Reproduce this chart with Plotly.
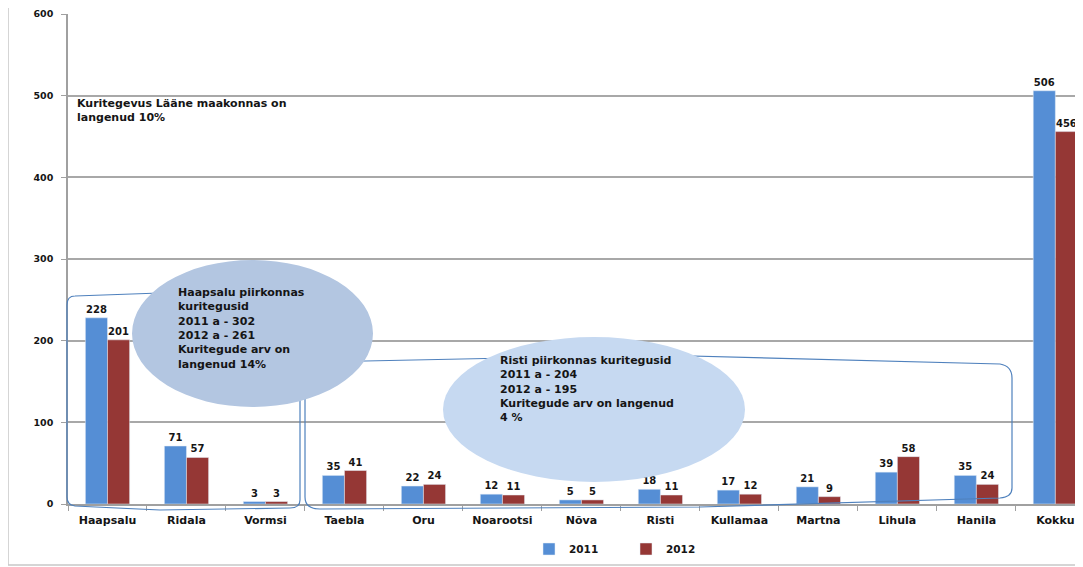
import plotly.graph_objects as go

categories = ["Haapsalu", "Ridala", "Vormsi", "Taebla", "Oru", "Noarootsi", "Nõva",
              "Risti", "Kullamaa", "Martna", "Lihula", "Hanila", "Kokku"]
values_2011 = [228, 71, 3, 35, 22, 12, 5, 18, 17, 21, 39, 35, 506]
values_2012 = [201, 57, 3, 41, 24, 11, 5, 11, 12, 9, 58, 24, 456]
y_ticks = [0, 100, 200, 300, 400, 500, 600]

# page has an 8px body margin; work in screen pixels and convert
OFF = 8
SW, SH = 1083, 567
W, H = SW - OFF, SH - OFF
L_s, T_s, BOT_s = 68, 14, 504  # screen px of plot left, top, bottom
L, T = L_s - OFF, T_s - OFF
B = SH - BOT_s
R = 0
PW, PH = SW - L_s, BOT_s - T_s


def px(x):
    return (x - L_s) / PW


def py(y):
    return (BOT_s - y) / PH


BLUE = "#558ED5"
RED = "#953735"
FONT = "DejaVu Sans"
TXT = "#151515"

fig = go.Figure()
fig.add_trace(go.Bar(x=categories, y=values_2011, name="2011", marker_color=BLUE,
                     text=values_2011, textposition="outside", cliponaxis=False,
                     textfont=dict(size=10, color=TXT, family=FONT, weight="bold")))
fig.add_trace(go.Bar(x=categories, y=values_2012, name="2012", marker_color=RED,
                     text=values_2012, textposition="outside", cliponaxis=False,
                     textfont=dict(size=10, color=TXT, family=FONT, weight="bold")))


def svg_path(cmds):
    out = []
    for c in cmds:
        if isinstance(c, str):
            out.append(c)
        else:
            out.append(f"{px(c[0]):.5f},{py(c[1]):.5f}")
    return " ".join(out)


line_col = "#4F81BD"
shapes = []
shapes.append(dict(type="rect", xref="paper", yref="paper", x0=px(8), x1=px(1095),
                   y0=py(565), y1=py(5), line=dict(color="#C8C8C8", width=1.5),
                   fillcolor="rgba(0,0,0,0)", layer="below"))
shapes.append(dict(type="path", xref="paper", yref="paper", layer="above",
                   path=svg_path(["M", (75, 296), "L", (160, 293), "L", (292, 296), "Q", (300, 297), (300, 305),
                                  "L", (300, 500), "Q", (300, 508), (290, 508), "L", (160, 510), "L", (75, 506),
                                  "Q", (67, 505), (67, 497), "L", (67, 305), "Q", (67, 296), (75, 296), "Z"]),
                   line=dict(color=line_col, width=1.2)))
shapes.append(dict(type="path", xref="paper", yref="paper", layer="above",
                   path=svg_path(["M", (317, 362), "L", (653, 355), "L", (1000, 364), "Q", (1012, 366), (1012, 378),
                                  "L", (1012, 488), "Q", (1012, 497), (1000, 498), "L", (700, 507), "L", (320, 509),
                                  "Q", (305, 509), (305, 497), "L", (305, 374), "Q", (305, 362), (317, 362), "Z"]),
                   line=dict(color=line_col, width=1.2)))
shapes.append(dict(type="circle", xref="paper", yref="paper", layer="above",
                   x0=px(132), x1=px(373), y0=py(407), y1=py(260),
                   fillcolor="#B3C6E1", line=dict(width=0)))
shapes.append(dict(type="circle", xref="paper", yref="paper", layer="above",
                   x0=px(443), x1=px(745), y0=py(482), y1=py(337),
                   fillcolor="#C6D9F1", line=dict(width=0)))

afont = dict(size=11, color=TXT, family=FONT, weight="bold")
annotations = [
    dict(xref="paper", yref="paper", x=px(75), y=py(95), xanchor="left", yanchor="top",
         align="left", showarrow=False,
         text="Kuritegevus Lääne maakonnas on<br>langenud 10%", font=afont),
    dict(xref="paper", yref="paper", x=px(176), y=py(284), xanchor="left", yanchor="top",
         align="left", showarrow=False,
         text="Haapsalu piirkonnas<br>kuritegusid<br>2011 a - 302<br>2012 a - 261<br>Kuritegude arv on<br>langenud 14%",
         font=afont),
    dict(xref="paper", yref="paper", x=px(498), y=py(352), xanchor="left", yanchor="top",
         align="left", showarrow=False,
         text="Risti piirkonnas kuritegusid<br>2011 a - 204<br>2012 a - 195<br>Kuritegude arv on langenud<br>4 %",
         font=afont),
]

fig.update_layout(
    width=W, height=H,
    margin=dict(l=L, r=R, t=T, b=B),
    paper_bgcolor="white", plot_bgcolor="white",
    barmode="group", bargap=0.44, bargroupgap=0,
    font=dict(family=FONT, size=10, color=TXT),
    shapes=shapes, annotations=annotations,
    legend=dict(orientation="h", x=px(529), xanchor="left", y=py(549), yanchor="middle",
                entrywidth=52, entrywidthmode="pixels", itemwidth=30,
                font=dict(size=10.5, color=TXT, family=FONT, weight="bold")),
    showlegend=True,
)
fig.update_xaxes(range=[-0.5, 12.35], showline=True, linecolor="#A0A0A0", linewidth=1.5,
                 ticks="outside", tickson="boundaries", ticklen=5, tickcolor="#A0A0A0",
                 ticklabelstandoff=5,
                 tickfont=dict(size=11, color=TXT, family=FONT, weight="bold"), showgrid=False,
                 automargin=False)
fig.update_yaxes(range=[0, 600], tickvals=y_ticks, showline=True, linecolor="#A0A0A0", linewidth=1.5,
                 ticks="outside", ticklen=5, tickcolor="#A0A0A0", ticklabelstandoff=6,
                 gridcolor="#A8A8A8", gridwidth=1.5, zeroline=False, automargin=False,
                 tickfont=dict(size=9.5, color=TXT, family=FONT, weight="bold"))

fig.write_html("out.html")
